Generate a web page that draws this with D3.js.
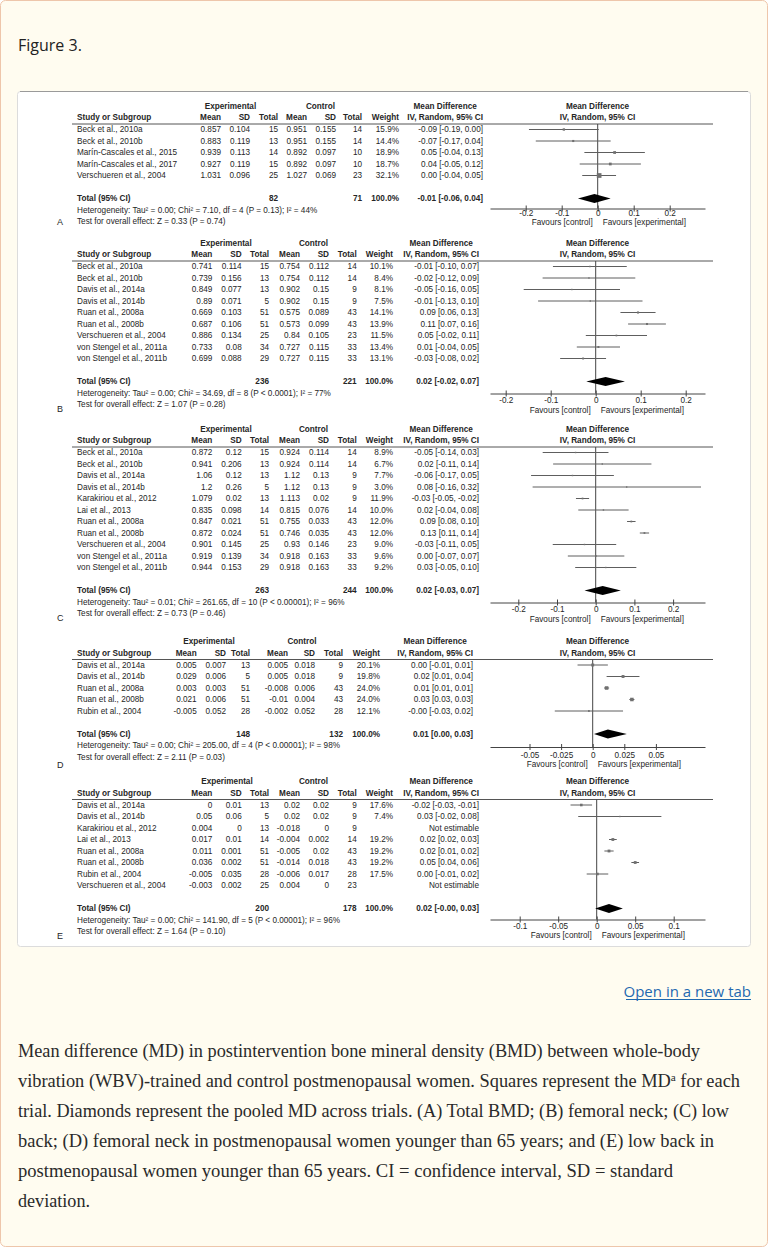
<!DOCTYPE html>
<html>
<head>
<meta charset="utf-8">
<script src="https://cdn.jsdelivr.net/npm/d3@7"></script>
<style>
  body { margin: 0; background: #fff; }
  svg { display: block; }
</style>
</head>
<body>
<svg id="page" width="768" height="1249"></svg>
<script>
// ---------- data: panel A (total BMD) ----------
const studiesA = ['Beck et al., 2010a', 'Beck et al., 2010b', 'Marín-Cascales et al., 2015', 'Marín-Cascales et al., 2017', 'Verschueren et al., 2004'];
const expMeanA = [0.857, 0.883, 0.939, 0.927, 1.031];
const expSdA = [0.104, 0.119, 0.113, 0.119, 0.096];
const expNA = [15, 13, 14, 15, 25];
const ctlMeanA = [0.951, 0.951, 0.892, 0.892, 1.027];
const ctlSdA = [0.155, 0.155, 0.097, 0.097, 0.069];
const ctlNA = [14, 14, 10, 10, 23];
const weightA = [15.9, 14.4, 18.9, 18.7, 32.1];
const mdA = [-0.094, -0.068, 0.047, 0.035, 0.004];
const loA = [-0.191, -0.172, -0.037, -0.050, -0.043];
const hiA = [0.003, 0.036, 0.131, 0.120, 0.051];
const ciTextA = ['-0.09 [-0.19, 0.00]', '-0.07 [-0.17, 0.04]', '0.05 [-0.04, 0.13]', '0.04 [-0.05, 0.12]', '0.00 [-0.04, 0.05]'];
const totalA = [82, 71];
const pooledA = [-0.009, -0.055, 0.036];
const pooledTextA = '-0.01 [-0.06, 0.04]';
const hetA = 'Heterogeneity: Tau² = 0.00; Chi² = 7.10, df = 4 (P = 0.13); I² = 44%';
const testA = 'Test for overall effect: Z = 0.33 (P = 0.74)';
const ticksA = [-0.2, -0.1, 0, 0.1, 0.2];

// ---------- data: panel B (femoral neck) ----------
const studiesB = ['Beck et al., 2010a', 'Beck et al., 2010b', 'Davis et al., 2014a', 'Davis et al., 2014b', 'Ruan et al., 2008a', 'Ruan et al., 2008b', 'Verschueren et al., 2004', 'von Stengel et al., 2011a', 'von Stengel et al., 2011b'];
const expMeanB = [0.741, 0.739, 0.849, 0.89, 0.669, 0.687, 0.886, 0.733, 0.699];
const expSdB = [0.114, 0.156, 0.077, 0.071, 0.103, 0.106, 0.134, 0.08, 0.088];
const expNB = [15, 13, 13, 5, 51, 51, 25, 34, 29];
const ctlMeanB = [0.754, 0.754, 0.902, 0.902, 0.575, 0.573, 0.84, 0.727, 0.727];
const ctlSdB = [0.112, 0.112, 0.15, 0.15, 0.089, 0.099, 0.105, 0.115, 0.115];
const ctlNB = [14, 14, 9, 9, 43, 43, 23, 33, 33];
const weightB = [10.1, 8.4, 8.1, 7.5, 14.1, 13.9, 11.5, 13.4, 13.1];
const mdB = [-0.013, -0.015, -0.053, -0.012, 0.094, 0.114, 0.046, 0.006, -0.028];
const loB = [-0.095, -0.118, -0.160, -0.128, 0.055, 0.072, -0.022, -0.042, -0.079];
const hiB = [0.069, 0.088, 0.054, 0.104, 0.133, 0.156, 0.114, 0.054, 0.023];
const ciTextB = ['-0.01 [-0.10, 0.07]', '-0.02 [-0.12, 0.09]', '-0.05 [-0.16, 0.05]', '-0.01 [-0.13, 0.10]', '0.09 [0.06, 0.13]', '0.11 [0.07, 0.16]', '0.05 [-0.02, 0.11]', '0.01 [-0.04, 0.05]', '-0.03 [-0.08, 0.02]'];
const totalB = [236, 221];
const pooledB = [0.022, -0.021, 0.065];
const pooledTextB = '0.02 [-0.02, 0.07]';
const hetB = 'Heterogeneity: Tau² = 0.00; Chi² = 34.69, df = 8 (P < 0.0001); I² = 77%';
const testB = 'Test for overall effect: Z = 1.07 (P = 0.28)';
const ticksB = [-0.2, -0.1, 0, 0.1, 0.2];

// ---------- data: panel C (low back) ----------
const studiesC = ['Beck et al., 2010a', 'Beck et al., 2010b', 'Davis et al., 2014a', 'Davis et al., 2014b', 'Karakiriou et al., 2012', 'Lai et al., 2013', 'Ruan et al., 2008a', 'Ruan et al., 2008b', 'Verschueren et al., 2004', 'von Stengel et al., 2011a', 'von Stengel et al., 2011b'];
const expMeanC = [0.872, 0.941, 1.06, 1.2, 1.079, 0.835, 0.847, 0.872, 0.901, 0.919, 0.944];
const expSdC = [0.12, 0.206, 0.12, 0.26, 0.02, 0.098, 0.021, 0.024, 0.145, 0.139, 0.153];
const expNC = [15, 13, 13, 5, 13, 14, 51, 51, 25, 34, 29];
const ctlMeanC = [0.924, 0.924, 1.12, 1.12, 1.113, 0.815, 0.755, 0.746, 0.93, 0.918, 0.918];
const ctlSdC = [0.114, 0.114, 0.13, 0.13, 0.02, 0.076, 0.033, 0.035, 0.146, 0.163, 0.163];
const ctlNC = [14, 14, 9, 9, 9, 14, 43, 43, 23, 33, 33];
const weightC = [8.9, 6.7, 7.7, 3.0, 11.9, 10.0, 12.0, 12.0, 9.0, 9.6, 9.2];
const mdC = [-0.052, 0.017, -0.060, 0.080, -0.034, 0.020, 0.092, 0.126, -0.029, 0.001, 0.026];
const loC = [-0.137, -0.110, -0.167, -0.163, -0.051, -0.045, 0.081, 0.114, -0.111, -0.072, -0.053];
const hiC = [0.033, 0.144, 0.047, 0.323, -0.017, 0.085, 0.103, 0.138, 0.053, 0.074, 0.105];
const ciTextC = ['-0.05 [-0.14, 0.03]', '0.02 [-0.11, 0.14]', '-0.06 [-0.17, 0.05]', '0.08 [-0.16, 0.32]', '-0.03 [-0.05, -0.02]', '0.02 [-0.04, 0.08]', '0.09 [0.08, 0.10]', '0.13 [0.11, 0.14]', '-0.03 [-0.11, 0.05]', '0.00 [-0.07, 0.07]', '0.03 [-0.05, 0.10]'];
const totalC = [263, 244];
const pooledC = [0.018, -0.029, 0.065];
const pooledTextC = '0.02 [-0.03, 0.07]';
const hetC = 'Heterogeneity: Tau² = 0.01; Chi² = 261.65, df = 10 (P < 0.00001); I² = 96%';
const testC = 'Test for overall effect: Z = 0.73 (P = 0.46)';
const ticksC = [-0.2, -0.1, 0, 0.1, 0.2];

// ---------- data: panel D (femoral neck, < 65 y) ----------
const studiesD = ['Davis et al., 2014a', 'Davis et al., 2014b', 'Ruan et al., 2008a', 'Ruan et al., 2008b', 'Rubin et al., 2004'];
const expMeanD = [0.005, 0.029, 0.003, 0.021, -0.005];
const expSdD = [0.007, 0.006, 0.003, 0.006, 0.052];
const expND = [13, 5, 51, 51, 28];
const ctlMeanD = [0.005, 0.005, -0.008, -0.01, -0.002];
const ctlSdD = [0.018, 0.018, 0.006, 0.004, 0.052];
const ctlND = [9, 9, 43, 43, 28];
const weightD = [20.1, 19.8, 24.0, 24.0, 12.1];
const mdD = [0.000, 0.024, 0.011, 0.031, -0.003];
const loD = [-0.012, 0.011, 0.009, 0.029, -0.030];
const hiD = [0.012, 0.037, 0.013, 0.033, 0.024];
const ciTextD = ['0.00 [-0.01, 0.01]', '0.02 [0.01, 0.04]', '0.01 [0.01, 0.01]', '0.03 [0.03, 0.03]', '-0.00 [-0.03, 0.02]'];
const totalD = [148, 132];
const pooledD = [0.012, 0.001, 0.027];
const pooledTextD = '0.01 [0.00, 0.03]';
const hetD = 'Heterogeneity: Tau² = 0.00; Chi² = 205.00, df = 4 (P < 0.00001); I² = 98%';
const testD = 'Test for overall effect: Z = 2.11 (P = 0.03)';
const ticksD = [-0.05, -0.025, 0, 0.025, 0.05];

// ---------- data: panel E (low back, < 65 y) ----------
const studiesE = ['Davis et al., 2014a', 'Davis et al., 2014b', 'Karakiriou et al., 2012', 'Lai et al., 2013', 'Ruan et al., 2008a', 'Ruan et al., 2008b', 'Rubin et al., 2004', 'Verschueren et al., 2004'];
const expMeanE = [0, 0.05, 0.004, 0.017, 0.011, 0.036, -0.005, -0.003];
const expSdE = [0.01, 0.06, 0, 0.01, 0.001, 0.002, 0.035, 0.002];
const expNE = [13, 5, 13, 14, 51, 51, 28, 25];
const ctlMeanE = [0.02, 0.02, -0.018, -0.004, -0.005, -0.014, -0.006, 0.004];
const ctlSdE = [0.02, 0.02, 0, 0.002, 0.02, 0.018, 0.017, 0];
const ctlNE = [9, 9, 9, 14, 43, 43, 28, 23];
const weightE = [17.6, 7.4, null, 19.2, 19.2, 19.2, 17.5, null];
const mdE = [-0.020, 0.030, null, 0.021, 0.016, 0.050, 0.001, null];
const loE = [-0.034, -0.024, null, 0.016, 0.010, 0.045, -0.013, null];
const hiE = [-0.006, 0.084, null, 0.026, 0.022, 0.055, 0.015, null];
const ciTextE = ['-0.02 [-0.03, -0.01]', '0.03 [-0.02, 0.08]', 'Not estimable', '0.02 [0.02, 0.03]', '0.02 [0.01, 0.02]', '0.05 [0.04, 0.06]', '0.00 [-0.01, 0.02]', 'Not estimable'];
const totalE = [200, 178];
const pooledE = [0.016, -0.002, 0.034];
const pooledTextE = '0.02 [-0.00, 0.03]';
const hetE = 'Heterogeneity: Tau² = 0.00; Chi² = 141.90, df = 5 (P < 0.00001); I² = 96%';
const testE = 'Test for overall effect: Z = 1.64 (P = 0.10)';
const ticksE = [-0.1, -0.05, 0, 0.05, 0.1];

const captionLines = [
    'Mean difference (MD) in postintervention bone mineral density (BMD) between whole-body',
    'vibration (WBV)-trained and control postmenopausal women. Squares represent the MD|a| for each',
    'trial. Diamonds represent the pooled MD across trials. (A) Total BMD; (B) femoral neck; (C) low',
    'back; (D) femoral neck in postmenopausal women younger than 65 years; and (E) low back in',
    'postmenopausal women younger than 65 years. CI = confidence interval, SD = standard',
    'deviation.'
];

// ---------- layout (pixel positions only) ----------
const colsAX = [221, 250, 278, 307, 336, 362, 399, 483];
const colsBX = [212.3, 241.7, 269, 300, 329, 356.7, 393, 479];
const colsDX = [196.7, 226, 250, 288, 315, 343, 380, 473];

const panels = [
    {letter: 'A', studies: studiesA, cols: [expMeanA, expSdA, expNA, ctlMeanA, ctlSdA, ctlNA], weight: weightA,
     md: mdA, lo: loA, hi: hiA, ciText: ciTextA, total: totalA, pooled: pooledA, pooledText: pooledTextA,
     het: hetA, test: testA, ticks: ticksA,
     ruleY: 124, colX: colsAX, grpX: [230.5, 320.5], tickPx: [525.7, 669.7],
     axisOff: 10, labelOff: 5, favOff: 9, letterY: 222},
    {letter: 'B', studies: studiesB, cols: [expMeanB, expSdB, expNB, ctlMeanB, ctlSdB, ctlNB], weight: weightB,
     md: mdB, lo: loB, hi: hiB, ciText: ciTextB, total: totalB, pooled: pooledB, pooledText: pooledTextB,
     het: hetB, test: testB, ticks: ticksB,
     ruleY: 261, colX: colsBX, grpX: [226, 313.5], tickPx: [505.7, 685.7],
     axisOff: 12, labelOff: 7, favOff: 9.5, letterY: 409},
    {letter: 'C', studies: studiesC, cols: [expMeanC, expSdC, expNC, ctlMeanC, ctlSdC, ctlNC], weight: weightC,
     md: mdC, lo: loC, hi: hiC, ciText: ciTextC, total: totalC, pooled: pooledC, pooledText: pooledTextC,
     het: hetC, test: testC, ticks: ticksC,
     ruleY: 447, colX: colsBX, grpX: [226, 313.5], tickPx: [518.3, 673.1],
     axisOff: 12, labelOff: 7, favOff: 9.5, letterY: 618},
    {letter: 'D', studies: studiesD, cols: [expMeanD, expSdD, expND, ctlMeanD, ctlSdD, ctlND], weight: weightD,
     md: mdD, lo: loD, hi: hiD, ciText: ciTextD, total: totalD, pooled: pooledD, pooledText: pooledTextD,
     het: hetD, test: testD, ticks: ticksD,
     ruleY: 659.5, colX: colsDX, grpX: [209, 302], tickPx: [529.5, 655.9],
     axisOff: 13, labelOff: 8, favOff: 9.5, letterY: 765},
    {letter: 'E', studies: studiesE, cols: [expMeanE, expSdE, expNE, ctlMeanE, ctlSdE, ctlNE], weight: weightE,
     md: mdE, lo: loE, hi: hiE, ciText: ciTextE, total: totalE, pooled: pooledE, pooledText: pooledTextE,
     het: hetE, test: testE, ticks: ticksE,
     ruleY: 799.5, colX: colsBX, grpX: [227, 313.5], tickPx: [519.7, 673.7],
     axisOff: 11, labelOff: 7, favOff: 9, letterY: 936}
];

const tableFont = '"Liberation Sans", Arial, sans-serif';
const textColor = '#262626';
const fontSize = '8.2px ';
const ruleX = [72, 713];
const plotL = 490;
const plotR = 705;
const plotCx = 597.5;
const studyX = 77;
const rowStep = 11.5;

const svg = d3.select('#page');

// page card
svg.append('rect')
    .attr('x', 0.5).attr('y', 0.5)
    .attr('width', 767).attr('height', 1246)
    .attr('rx', 5)
    .attr('fill', '#fffcf0')
    .attr('stroke', '#eec6ab');

svg.append('text')
    .attr('x', 18).attr('y', 51)
    .attr('fill', '#222')
    .style('font', '16px "Open Sans", "Noto Sans", sans-serif')
    .text('Figure 3.');

// image frame
svg.append('rect')
    .attr('x', 17.5).attr('y', 91.5)
    .attr('width', 733).attr('height', 855)
    .attr('rx', 3)
    .attr('fill', '#fff')
    .attr('stroke', '#dcdcdc');
svg.append('line')
    .attr('x1', 20).attr('x2', 748)
    .attr('y1', 91.5).attr('y2', 91.5)
    .attr('stroke', '#9a9a9a');

const addText = (g, x, y, str, anchor, bold) => g.append('text')
    .attr('x', x).attr('y', y)
    .attr('dy', '0.35em')
    .attr('text-anchor', anchor || 'start')
    .attr('fill', textColor)
    .style('font', (bold ? 'bold ' : '') + fontSize + tableFont)
    .text(str);

const drawPanel = (g, p) => {
    const H = p.ruleY;
    const n = p.studies.length;
    // row index -> y ; total sits after one blank row
    const y = d3.scaleLinear().domain([0, 1]).range([H + 5.5, H + 5.5 + rowStep]);
    const totalY = y(n + 1);
    const axisY = totalY + p.axisOff;

    const x = d3.scaleLinear().domain([p.ticks[0], p.ticks[p.ticks.length - 1]]).range(p.tickPx);
    const xAxisScale = x.copy().domain([x.invert(plotL), x.invert(plotR)]).range([plotL, plotR]);
    const sq = d3.scaleLinear().domain([0, 32.1]).range([0, 4.7]);

    // header line 1
    addText(g, p.grpX[0], H - 18, 'Experimental', 'middle', true);
    addText(g, p.grpX[1], H - 18, 'Control', 'middle', true);
    // header line 2
    addText(g, studyX, H - 6.5, 'Study or Subgroup', 'start', true);
    ['Mean', 'SD', 'Total', 'Mean', 'SD', 'Total', 'Weight'].forEach((h, j) => {
        addText(g, p.colX[j], H - 6.5, h, 'end', true);
    });
    const ciHead = addText(g, p.colX[7], H - 6.5, 'IV, Random, 95% CI', 'end', true);
    const ciW = ciHead.node().getComputedTextLength();
    addText(g, p.colX[7] - ciW / 2, H - 18, 'Mean Difference', 'middle', true);
    addText(g, plotCx, H - 18, 'Mean Difference', 'middle', true);
    addText(g, plotCx, H - 6.5, 'IV, Random, 95% CI', 'middle', true);

    g.append('line')
        .attr('x1', ruleX[0]).attr('x2', ruleX[1])
        .attr('y1', H).attr('y2', H)
        .attr('stroke', '#555')
        .attr('stroke-width', 1);

    // study rows
    p.studies.forEach((s, i) => {
        addText(g, studyX, y(i), s);
        p.cols.forEach((col, j) => addText(g, p.colX[j], y(i), String(col[i]), 'end'));
        if(p.weight[i] !== null) {
            addText(g, p.colX[6], y(i), p.weight[i].toFixed(1) + '%', 'end');
        }
        addText(g, p.colX[7], y(i), p.ciText[i], 'end');
    });

    // total row
    addText(g, studyX, totalY, 'Total (95% CI)', 'start', true);
    addText(g, p.colX[2], totalY, String(p.total[0]), 'end', true);
    addText(g, p.colX[5], totalY, String(p.total[1]), 'end', true);
    addText(g, p.colX[6], totalY, '100.0%', 'end', true);
    addText(g, p.colX[7], totalY, p.pooledText, 'end', true);
    addText(g, studyX, totalY + rowStep, p.het);
    addText(g, studyX, totalY + rowStep * 2, p.test);

    g.append('text')
        .attr('x', 57).attr('y', p.letterY)
        .attr('dy', '0.35em')
        .attr('fill', textColor)
        .style('font', '9px ' + tableFont)
        .text(p.letter);

    // zero line
    g.append('line')
        .attr('x1', x(0)).attr('x2', x(0))
        .attr('y1', H).attr('y2', axisY)
        .attr('stroke', '#444');

    const rows = p.studies.map((s, i) => ({i: i, md: p.md[i], lo: p.lo[i], hi: p.hi[i], w: p.weight[i]}))
        .filter(d => d.md !== null);

    g.append('g')
        .selectAll('line')
        .data(rows)
        .join('line')
        .attr('x1', d => Math.max(plotL, x(d.lo)))
        .attr('x2', d => Math.min(plotR - 4, x(d.hi)))
        .attr('y1', d => y(d.i))
        .attr('y2', d => y(d.i))
        .attr('stroke', '#5e5e5e')
        .attr('stroke-width', 1);

    g.append('g')
        .selectAll('rect')
        .data(rows)
        .join('rect')
        .attr('x', d => x(d.md) - Math.max(1.4, sq(d.w)) / 2)
        .attr('y', d => y(d.i) - Math.max(1.4, sq(d.w)) / 2)
        .attr('width', d => Math.max(1.4, sq(d.w)))
        .attr('height', d => Math.max(1.4, sq(d.w)))
        .attr('fill', '#707070');

    // pooled diamond
    const line = d3.line().x(d => d[0]).y(d => d[1]);
    g.append('path')
        .attr('d', line([
            [x(p.pooled[1]), totalY],
            [x(p.pooled[0]), totalY - 4.5],
            [x(p.pooled[2]), totalY],
            [x(p.pooled[0]), totalY + 4.5]
        ]) + 'Z')
        .attr('fill', '#000');

    // axis
    const axis = g.append('g')
        .attr('transform', `translate(0,${axisY})`)
        .call(d3.axisBottom(xAxisScale)
            .tickValues(p.ticks)
            .tickFormat(d => String(d))
            .tickSizeInner(3)
            .tickSizeOuter(0));
    axis.select('.domain').attr('stroke', '#444');
    axis.selectAll('.tick line').attr('y1', -3).attr('y2', 3).attr('stroke', '#444');
    axis.selectAll('.tick text')
        .attr('y', p.labelOff)
        .attr('dy', '0.35em')
        .attr('fill', textColor)
        .style('font', fontSize + tableFont);

    const favY = axisY + p.labelOff + p.favOff;
    addText(g, x(0) - 5, favY, 'Favours [control]', 'end');
    addText(g, x(0) + 5, favY, 'Favours [experimental]', 'start');
};

panels.forEach(p => drawPanel(svg.append('g').attr('class', 'panel-' + p.letter), p));

// link
svg.append('text')
    .attr('x', 751).attr('y', 997)
    .attr('text-anchor', 'end')
    .attr('fill', '#1f69b0')
    .style('font', '15px "Open Sans", "Noto Sans", sans-serif')
    .text('Open in a new tab');
svg.append('line')
    .attr('x1', 626).attr('x2', 751)
    .attr('y1', 999.5).attr('y2', 999.5)
    .attr('stroke', '#1f69b0')
    .attr('stroke-width', 1);

// caption
const captionW = [682, 722, 711, 696, 655, 72];
captionLines.forEach((l, i) => {
    const t = svg.append('text')
        .attr('x', 18)
        .attr('y', 1057 + i * 30)
        .attr('fill', '#2a2a2a')
        .attr('textLength', captionW[i])
        .attr('lengthAdjust', 'spacingAndGlyphs')
        .style('font', '18px "Liberation Serif", "Times New Roman", serif');
    const parts = l.split('|');
    t.append('tspan').text(parts[0]);
    if(parts.length > 1) {
        t.append('tspan').attr('baseline-shift', 'super').style('font-size', '11px').text(parts[1]);
        t.append('tspan').text(parts[2]);
    }
});
</script>
</body>
</html>
